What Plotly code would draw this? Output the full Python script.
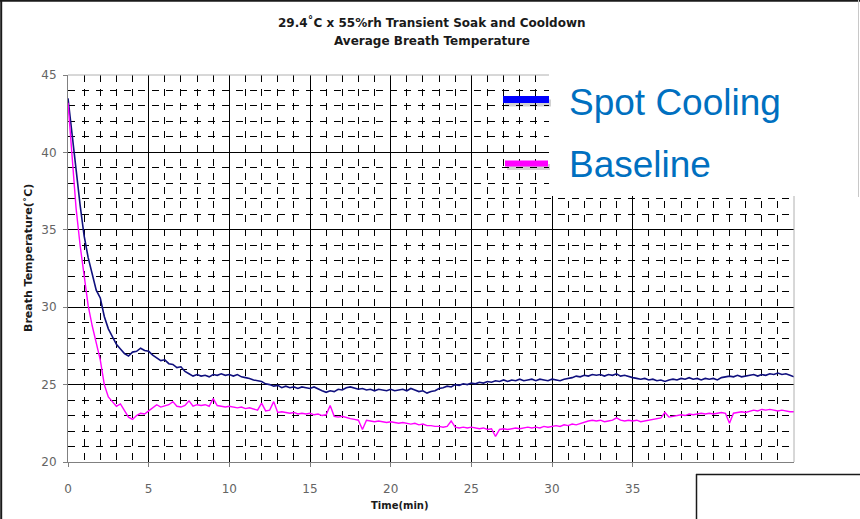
import plotly.graph_objects as go

# ---------------- data ----------------
spot_time = [i * 0.25 for i in range(181)]
spot_temp = [
    43.5, 41.0, 38.9, 36.6, 34.6, 33.2, 32.2, 31.1, 30.6, 29.4, 28.6, 28.1,
    27.6, 27.3, 27.0, 26.85, 27.1, 27.15, 27.35, 27.2, 27.15, 26.9, 26.75, 26.55,
    26.6, 26.35, 26.3, 26.1, 26.15, 25.85, 25.7, 25.55, 25.65, 25.55, 25.6, 25.5,
    25.65, 25.6, 25.7, 25.6, 25.65, 25.55, 25.65, 25.5, 25.45, 25.4, 25.3, 25.25,
    25.2, 25.05, 25.0, 24.9, 24.95, 24.8, 24.9, 24.8, 24.85, 24.75, 24.85, 24.8,
    24.75, 24.85, 24.7, 24.6, 24.5, 24.6, 24.55, 24.7, 24.65, 24.8, 24.85, 24.75,
    24.7, 24.75, 24.65, 24.7, 24.6, 24.7, 24.65, 24.6, 24.7, 24.6, 24.65, 24.7,
    24.6, 24.75, 24.65, 24.55, 24.6, 24.45, 24.55, 24.6, 24.75, 24.8, 24.9, 24.85,
    25.0, 24.95, 25.05, 25.0, 25.1, 25.05, 25.15, 25.1, 25.2, 25.15, 25.25, 25.2,
    25.3, 25.2, 25.3, 25.25, 25.35, 25.25, 25.3, 25.35, 25.25, 25.35, 25.3, 25.25,
    25.35, 25.3, 25.25, 25.35, 25.4, 25.45, 25.55, 25.5, 25.6, 25.55, 25.65, 25.6,
    25.65, 25.55, 25.65, 25.6, 25.7, 25.55, 25.6, 25.5, 25.45, 25.4, 25.35, 25.4,
    25.3, 25.35, 25.25, 25.3, 25.2, 25.3, 25.35, 25.3, 25.4, 25.35, 25.45, 25.35,
    25.4, 25.3, 25.4, 25.35, 25.4, 25.3, 25.45, 25.5, 25.55, 25.5, 25.6, 25.5,
    25.55, 25.6, 25.65, 25.55, 25.65, 25.6, 25.7, 25.65, 25.75, 25.65, 25.7, 25.6,
    25.5,
]

base_time = [i * 0.25 for i in range(181)]
base_temp = [
    43.2, 39.7, 36.4, 34.0, 32.0, 30.1, 28.8, 27.6, 26.6, 25.0, 24.2, 23.9,
    23.6, 23.75, 23.3, 22.9, 22.75, 23.0, 23.15, 23.1, 23.3, 23.5, 23.7, 23.55,
    23.65, 23.7, 23.9, 23.6, 23.55, 23.65, 23.95, 23.6, 23.7, 23.65, 23.7, 23.6,
    24.1, 23.65, 23.6, 23.55, 23.6, 23.55, 23.5, 23.55, 23.45, 23.5, 23.4, 23.35,
    23.8, 23.3, 23.35, 23.9, 23.2, 23.25, 23.2, 23.15, 23.2, 23.1, 23.15, 23.1,
    23.15, 23.05, 23.1, 23.0, 23.05, 23.65, 22.95, 22.9, 22.95, 22.85, 22.8, 22.75,
    22.7, 22.1, 22.7, 22.65, 22.6, 22.65, 22.6, 22.55, 22.6, 22.55, 22.5, 22.55,
    22.5, 22.45, 22.5, 22.4, 22.45, 22.35, 22.35, 22.3, 22.3, 22.25, 22.3, 22.65,
    22.25, 22.2, 22.25, 22.2, 22.25, 22.2, 22.15, 22.2, 22.1, 22.15, 21.65, 22.1,
    22.15, 22.1, 22.15, 22.2, 22.15, 22.2, 22.25, 22.2, 22.25, 22.2, 22.3, 22.25,
    22.3, 22.35, 22.3, 22.4, 22.35, 22.45, 22.4, 22.5, 22.55, 22.65, 22.7, 22.65,
    22.7, 22.6, 22.65, 22.7, 22.85, 22.7, 22.65, 22.7, 22.65, 22.7, 22.6, 22.65,
    22.7, 22.75, 22.8, 22.85, 23.2, 22.9, 22.95, 23.0, 23.05, 23.0, 23.1, 23.05,
    23.1, 23.15, 23.1, 23.15, 23.1, 23.15, 23.2, 23.15, 22.5, 23.15, 23.2, 23.25,
    23.2, 23.3, 23.35, 23.3, 23.4, 23.35, 23.4, 23.35, 23.3, 23.35, 23.3, 23.25,
    23.25,
]

series_names = ["Spot Cooling", "Baseline"]
x_ticks = [0, 5, 10, 15, 20, 25, 30, 35]
y_ticks = [20, 25, 30, 35, 40, 45]
title_lines = ["29.4˚C x 55%rh Transient Soak and Cooldown", "Average Breath Temperature"]

# ---------------- layout helpers (pixel -> paper) ----------------
W, H = 860, 519
L, R, T, B = 68, 794, 75, 462


def px(x):
    return (x - L) / (R - L)


def py(y):
    return (B - y) / (B - T)


fig = go.Figure()
fig.add_trace(go.Scatter(x=spot_time, y=spot_temp, mode="lines", name=series_names[0],
                         line=dict(color="#10107e", width=1.6)))
fig.add_trace(go.Scatter(x=base_time, y=base_temp, mode="lines", name=series_names[1],
                         line=dict(color="#ff00ff", width=1.4)))

axis_common = dict(
    showline=True, linecolor="#808080", linewidth=1,
    ticks="outside", ticklen=4, tickcolor="#808080",
    tickfont=dict(family="DejaVu Sans", size=12, color="#646464"),
    showgrid=True, gridcolor="#000000", gridwidth=1,
    zeroline=False,
    minor=dict(dtick=1, showgrid=True, gridcolor="#000000", gridwidth=1,
               griddash="7px,7px", ticks=""),
)

fig.update_xaxes(range=[0, 45], tickvals=x_ticks, ticklabelstandoff=12, **axis_common)
fig.update_yaxes(range=[20, 45], tickvals=y_ticks, ticklabelstandoff=4, **axis_common)

shapes = []
# top/right plot border (light gray)
shapes.append(dict(type="line", xref="paper", yref="paper", x0=0, x1=1, y0=1, y1=1,
                   line=dict(color="#b0b0b0", width=1)))
shapes.append(dict(type="line", xref="paper", yref="paper", x0=1, x1=1, y0=0, y1=1,
                   line=dict(color="#b0b0b0", width=1)))
# white panel behind legend
shapes.append(dict(type="rect", xref="paper", yref="paper", x0=px(549), x1=px(858),
                   y0=py(196), y1=py(2), fillcolor="white", line=dict(width=0), layer="above"))
# legend samples with shadow
shapes.append(dict(type="line", xref="paper", yref="paper", x0=px(505), x1=px(551),
                   y0=py(103), y1=py(103), line=dict(color="rgba(0,0,0,0.18)", width=7), layer="above"))
shapes.append(dict(type="line", xref="paper", yref="paper", x0=px(503), x1=px(549),
                   y0=py(99.5), y1=py(99.5), line=dict(color="#0000ff", width=7), layer="above"))
shapes.append(dict(type="line", xref="paper", yref="paper", x0=px(507), x1=px(550),
                   y0=py(167), y1=py(167), line=dict(color="rgba(0,0,0,0.18)", width=6), layer="above"))
shapes.append(dict(type="line", xref="paper", yref="paper", x0=px(505), x1=px(548),
                   y0=py(163.5), y1=py(163.5), line=dict(color="#ff00ff", width=6), layer="above"))
# slide frame
shapes.append(dict(type="line", xref="paper", yref="paper", x0=px(0), x1=px(860),
                   y0=py(0.8), y1=py(0.8), line=dict(color="#1a1a1a", width=2), layer="above"))
shapes.append(dict(type="line", xref="paper", yref="paper", x0=px(1.2), x1=px(1.2),
                   y0=py(0), y1=py(519), line=dict(color="#1a1a1a", width=2), layer="above"))
shapes.append(dict(type="line", xref="paper", yref="paper", x0=px(858.5), x1=px(858.5),
                   y0=py(0), y1=py(197), line=dict(color="#c8c8c8", width=1), layer="above"))
# bottom-right box
shapes.append(dict(type="line", xref="paper", yref="paper", x0=px(696), x1=px(861),
                   y0=py(474.5), y1=py(474.5), line=dict(color="#1a1a1a", width=1.5), layer="above"))
shapes.append(dict(type="line", xref="paper", yref="paper", x0=px(696.5), x1=px(696.5),
                   y0=py(474), y1=py(520), line=dict(color="#1a1a1a", width=1.5), layer="above"))

annotations = [
    dict(text=title_lines[0], x=px(432), y=py(22), xref="paper", yref="paper",
         showarrow=False, xanchor="center", yanchor="middle",
         font=dict(family="DejaVu Sans", size=12, color="#1a1a1a", weight="bold")),
    dict(text=title_lines[1], x=px(432), y=py(41), xref="paper", yref="paper",
         showarrow=False, xanchor="center", yanchor="middle",
         font=dict(family="DejaVu Sans", size=12, color="#1a1a1a", weight="bold")),
    dict(text="Breath Temperature(˚C)", x=px(28), y=py(258), xref="paper", yref="paper",
         showarrow=False, textangle=-90, xanchor="center", yanchor="middle",
         font=dict(family="DejaVu Sans", size=11, color="#1a1a1a", weight="bold")),
    dict(text="Time(min)", x=px(400), y=py(506), xref="paper", yref="paper",
         showarrow=False, xanchor="center", yanchor="middle",
         font=dict(family="DejaVu Sans", size=10, color="#1a1a1a", weight="bold")),
    dict(text=series_names[0], x=px(567), y=py(102), xref="paper", yref="paper",
         showarrow=False, xanchor="left", yanchor="middle",
         font=dict(family="Liberation Sans", size=37, color="#0070c0")),
    dict(text=series_names[1], x=px(567), y=py(164), xref="paper", yref="paper",
         showarrow=False, xanchor="left", yanchor="middle",
         font=dict(family="Liberation Sans", size=37, color="#0070c0")),
]

fig.update_layout(
    width=W, height=H,
    margin=dict(l=L, r=W - R, t=T, b=H - B, pad=0),
    plot_bgcolor="white", paper_bgcolor="white",
    showlegend=False,
    shapes=shapes, annotations=annotations,
)

fig.write_html("out.html")
